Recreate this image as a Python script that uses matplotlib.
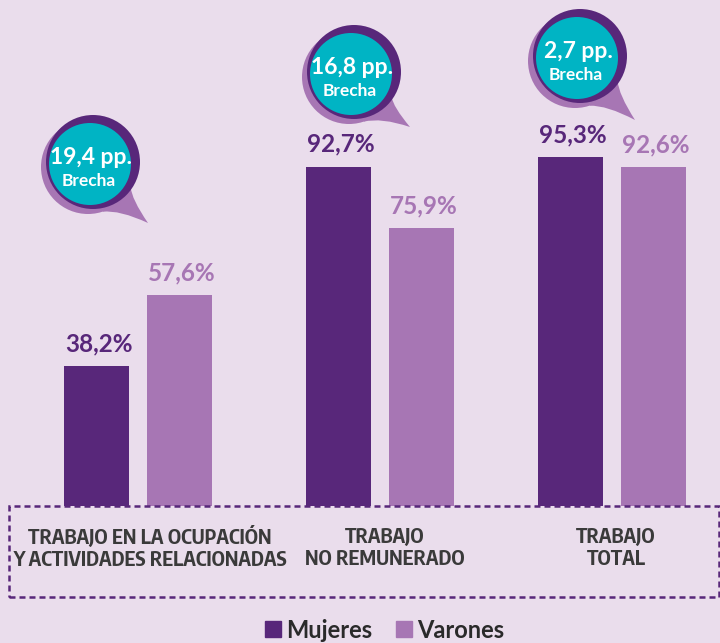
import numpy as np
import matplotlib
matplotlib.use("Agg")
import matplotlib.pyplot as plt
from matplotlib import font_manager
from matplotlib.patches import Circle, PathPatch, Rectangle, Patch
from matplotlib.path import Path

# data
categories = ["TRABAJO EN LA OCUPACIÓN\nY ACTIVIDADES RELACIONADAS",
              "TRABAJO\nNO REMUNERADO",
              "TRABAJO\nTOTAL"]
mujeres = [38.2, 92.7, 95.3]
varones = [57.6, 75.9, 92.6]
series_names = ["Mujeres", "Varones"]

# colours
BG = "#EADDEC"
DARK = "#58277A"
LIGHT = "#A776B4"
TEAL = "#00B4C4"
GREY = "#3A3A3A"

# layout (pixels of a 720x643 canvas)
W, H = 720, 643
group_x = np.array([138, 380, 612])
label_x = [150, 385, 616]
bubble_xy = [(90, 164), (351, 74), (577, 58)]
tail_tip = [(148, 223), (410, 127), (635, 120)]
baseline_px = 506
px_per_unit = 3.66

names = {f.name for f in font_manager.fontManager.ttflist}


def pick(cands):
    for c in cands:
        if c in names:
            return c
    return "DejaVu Sans"


NARROW = pick(["Encode Sans Condensed", "Asap Condensed", "Roboto Condensed",
               "Sofia Sans Condensed", "Liberation Sans Narrow"])
MAIN = pick(["Lato", "Open Sans"])


def fmt(v):
    return f"{v:.1f}".replace(".", ",")


fig = plt.figure(figsize=(W / 100, H / 100), dpi=100)
fig.patch.set_facecolor(BG)

# bars in percent units
ax = fig.add_axes([0, 0, 1, 1])
ax.set_facecolor("none")
ax.set_xlim(0, W)
y0 = -(H - baseline_px) / px_per_unit
ax.set_ylim(y0, y0 + H / px_per_unit)
ax.axis("off")

off, bw = 41.5, 65
for vals, col, dx in [(mujeres, DARK, -off), (varones, LIGHT, off)]:
    ax.bar(group_x + dx, vals, width=bw, color=col, zorder=2)
    for x, v in zip(group_x + dx, vals):
        ax.text(x + 2, v + 15 / px_per_unit, fmt(v) + "%", ha="center", va="baseline",
                color=col, fontsize=17.5, fontweight="bold", family=MAIN)

# overlay in pixel coordinates (y measured from top)
ov = fig.add_axes([0, 0, 1, 1], zorder=3)
ov.set_facecolor("none")
ov.set_xlim(0, W)
ov.set_ylim(0, H)
ov.axis("off")


def py(y):
    return H - y


# dashed frame under the bars
ov.add_patch(Rectangle((9, py(597)), 710, 597 - 506, fill=False, edgecolor=DARK,
                       lw=1.8, linestyle=(0, (2.4, 1.6))))

for i, cat in enumerate(categories):
    ov.text(label_x[i], py(548), cat, ha="center", va="center", fontsize=14.5,
            fontweight="bold", color=GREY, family=NARROW, linespacing=1.1)

# gap bubbles
gaps = [abs(v - m) for m, v in zip(mujeres, varones)]
for (tx, ty), (kx, ky), g in zip(bubble_xy, tail_tip, gaps):
    T = np.array([tx, py(ty)])
    tip = np.array([kx, py(ky)])
    L = T + np.array([-2, -3])
    D = T + np.array([3, 2])
    R = 47
    a1, a2 = np.radians(-25), np.radians(-72)
    A = L + R * np.array([np.cos(a1), np.sin(a1)])
    B = L + R * np.array([np.cos(a2), np.sin(a2)])
    c1 = (A + tip) / 2 + (L - (A + tip) / 2) * 0.15
    c2 = (B + tip) / 2 + (L - (B + tip) / 2) * 0.15
    tail = Path([A, c1, tip, c2, B, A],
                [Path.MOVETO, Path.CURVE3, Path.CURVE3, Path.CURVE3, Path.CURVE3, Path.CLOSEPOLY])
    ov.add_patch(PathPatch(tail, color=LIGHT, lw=0))
    ov.add_patch(Circle(L, R, color=LIGHT, lw=0))
    ov.add_patch(Circle(D, R, color=DARK, lw=0))
    ov.add_patch(Circle(T, 41, color=TEAL, lw=0))
    ov.text(T[0] + 1, T[1] + 7, fmt(g) + " pp.", ha="center", va="center", color="white",
            fontsize=16.5, fontweight="bold", family=MAIN)
    ov.text(T[0] - 1, T[1] - 17, "Brecha", ha="center", va="center", color="white",
            fontsize=12.5, fontweight="bold", family=MAIN)

handles = [Patch(color=DARK), Patch(color=LIGHT)]
fig.legend(handles, series_names, loc="center", bbox_to_anchor=(385 / W, 1 - 630 / H),
           ncol=2, frameon=False, handlelength=0.65, handleheight=0.65,
           handletextpad=0.25, columnspacing=1.0,
           prop={"family": MAIN, "size": 17, "weight": "bold"}, labelcolor="#2A2A2A")

fig.savefig("out.png", dpi=100, facecolor=BG)
